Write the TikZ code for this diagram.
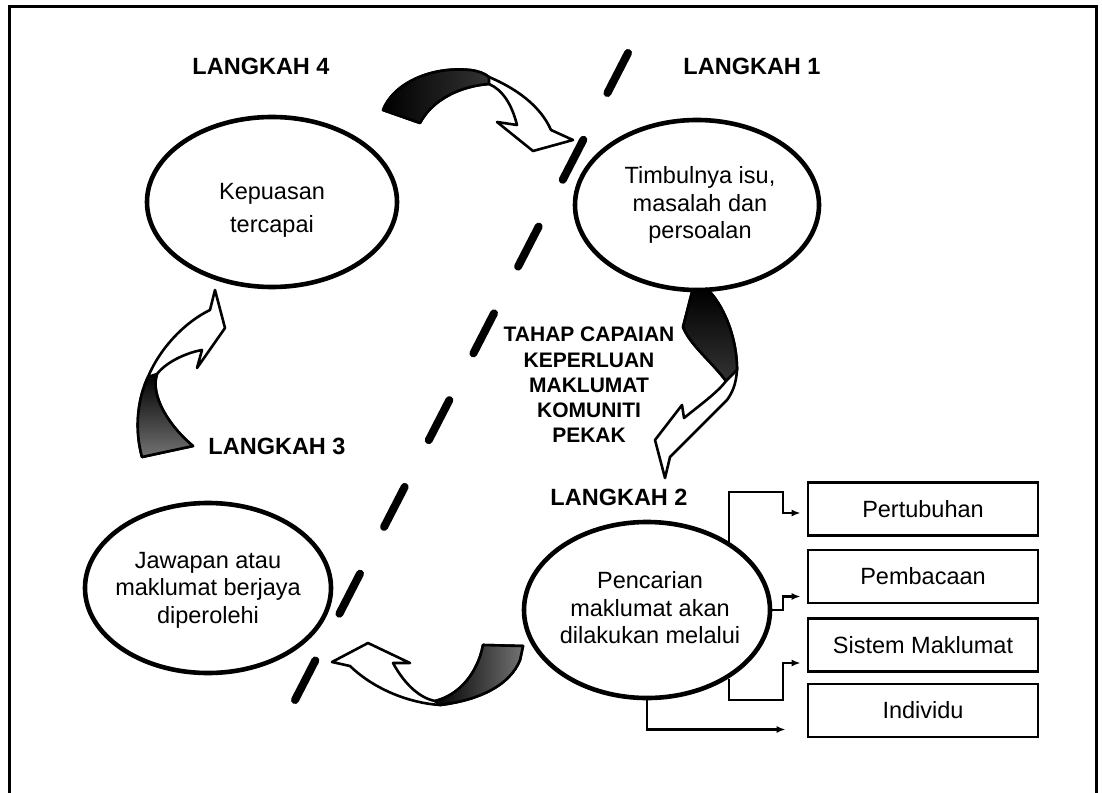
\documentclass[tikz,border=0pt]{standalone}
\usepackage{fontspec}
\setmainfont{Liberation Sans}
\usetikzlibrary{arrows.meta,shapes.geometric}
\begin{document}
\begin{tikzpicture}[x=0.5pt,y=-0.5pt,
  ell/.style={draw,ellipse,line width=2.3pt,inner sep=0pt},
  etext/.style={align=center,inner sep=0pt,font=\fontsize{11.75pt}{13.75pt}\selectfont},
  lbl/.style={inner sep=0pt,font=\bfseries\fontsize{11.75pt}{14pt}\selectfont},
  tahap/.style={align=center,inner sep=0pt,font=\bfseries\fontsize{10.5pt}{12.6pt}\selectfont},
  bx/.style={draw,line width=1.4pt,minimum width=115pt,minimum height=26.5pt,inner sep=0pt,font=\fontsize{11.75pt}{14pt}\selectfont},
  conn/.style={line width=1.1pt,-{Latex[length=4.5pt,width=3.5pt]},shorten >=3pt},
  dashln/.style={line width=4pt,line cap=round,dash pattern=on 22.5pt off 26.3pt},
  abody/.style={draw,fill=white,line width=1.3pt,line join=round},
  adark/.style={draw,line width=1.3pt,line join=round},
  frame/.style={line width=1.5pt}]

\useasboundingbox (0,0) rectangle (1102,792);
\draw[frame] (9.5,800) -- (9.5,6.5) -- (1096.5,6.5) -- (1096.5,800);

% dashed divider
\coordinate (DT) at (628,53);
\coordinate (DB) at (295,700);
\draw[dashln] (DT) -- (DB);

% ellipses
\node[ell,minimum width=125pt,minimum height=85pt] (L4) at (272,202) {};
\node[ell,minimum width=122pt,minimum height=85pt] (L1) at (697,205) {};
\node[ell,minimum width=123pt,minimum height=85pt] (L3) at (208,588) {};
\node[ell,minimum width=123pt,minimum height=88pt] (L2) at (647,610) {};

\node[etext,font=\fontsize{11.75pt}{16.5pt}\selectfont] (T4) at (272,210) {Kepuasan\\tercapai};
\node[etext] (T1) at (700,205) {Timbulnya isu,\\masalah dan\\persoalan};
\node[etext] (T3) at (208,590) {Jawapan atau\\maklumat berjaya\\diperolehi};
\node[etext] (T2) at (650,608) {Pencarian\\maklumat akan\\dilakukan melalui};

% labels
\node[lbl] (S4) at (261,66) {LANGKAH 4};
\node[lbl] (S1) at (752,66) {LANGKAH 1};
\node[lbl] (S3) at (277,446) {LANGKAH 3};
\node[lbl] (S2) at (619,497) {LANGKAH 2};
\node[tahap] (TH) at (589,385) {TAHAP CAPAIAN\\KEPERLUAN\\MAKLUMAT\\KOMUNITI\\PEKAK};

% boxes
\node[bx] (B1) at (923,509) {Pertubuhan};
\node[bx] (B2) at (923,576.5) {Pembacaan};
\node[bx] (B3) at (923,645) {Sistem Maklumat};
\node[bx] (B4) at (923,710.5) {Individu};

% connectors
\coordinate (J1) at (783,492);
\coordinate (J2) at (783,610);
\coordinate (J3) at (783,700);
\draw[conn] (L2.40) |- (J1) |- ([yshift=-2pt]B1.west);
\draw[conn] (L2.east) -- (J2) |- ([yshift=-10pt]B2.west);
\draw[conn] (L2.-40) |- (J3) |- ([yshift=-9pt]B3.west);
\draw[conn,shorten >=10.5pt] (L2.south) |- ([yshift=-9.5pt]B4.west);

% curved arrow A (step 4 -> step 1)
\path[abody] (383,110) .. controls (393,84) and (430,66) .. (470,70) .. controls (478,71) and (484,73) .. (489,77) .. controls (515,88) and (540,105) .. (551,130) -- (573,140) -- (533,151) -- (497,122) -- (517,125) .. controls (512,105) and (503,90) .. (489,84) .. controls (460,86) and (432,100) .. (420,123) -- cycle;
\shadedraw[adark,left color=black,middle color=black!55,right color=black!80] (383,110) .. controls (393,84) and (430,66) .. (470,70) .. controls (478,71) and (484,73) .. (489,77) -- (489,84) .. controls (460,86) and (432,100) .. (420,123) -- cycle;

% curved arrow B (step 1 -> step 2)
\path[abody] (692,292) -- (707,289) .. controls (722,303) and (737,335) .. (737,370) .. controls (736,385) and (732,393) .. (727,400) -- (670,457) -- (665,478) -- (655,440) -- (682,405) -- (684,418) .. controls (700,405) and (718,392) .. (726,381) .. controls (712,362) and (690,345) .. (683,327) -- cycle;
\shadedraw[adark,top color=black,middle color=black!55,bottom color=black!80] (692,292) -- (707,289) .. controls (722,303) and (737,335) .. (737,370) -- (726,381) .. controls (712,362) and (690,345) .. (683,327) -- cycle;

% curved arrow C (step 2 -> step 3)
\path[abody] (483,645) -- (523,646) -- (520,660) .. controls (510,685) and (480,700) .. (440,705) .. controls (410,703) and (375,690) .. (350,666) -- (332,662) -- (368,643) -- (410,663) -- (393,663) .. controls (405,685) and (420,698) .. (435,701) .. controls (460,695) and (478,672) .. (483,645) -- cycle;
\shadedraw[adark,left color=black,right color=black!55] (483,645) -- (523,646) -- (520,660) .. controls (510,685) and (480,700) .. (440,705) -- (435,701) .. controls (460,695) and (478,672) .. (483,645) -- cycle;

% curved arrow D (step 3 -> step 4)
\path[abody] (142,457) .. controls (134,428) and (138,398) .. (148,377) .. controls (160,348) and (185,322) .. (210,310) -- (215,290) -- (225,328) -- (197,368) -- (202,350) .. controls (190,352) and (168,360) .. (157,374) .. controls (150,395) and (168,425) .. (193,446) -- cycle;
\shadedraw[adark,top color=black,bottom color=black!55] (142,457) .. controls (134,428) and (138,398) .. (148,377) -- (157,374) .. controls (150,395) and (168,425) .. (193,446) -- cycle;

\end{tikzpicture}
\end{document}
